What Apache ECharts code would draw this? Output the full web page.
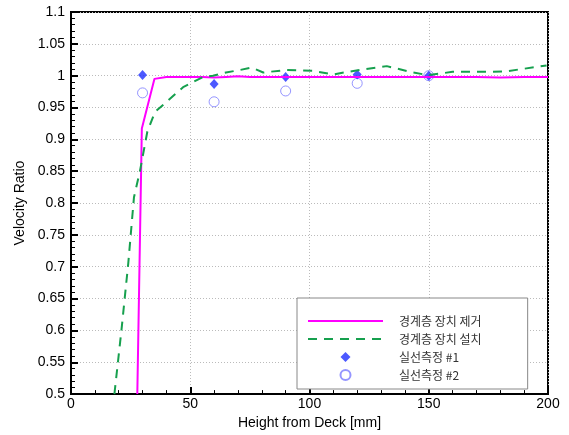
<!DOCTYPE html>
<html>
<head>
<meta charset="utf-8">
<script src="https://cdn.jsdelivr.net/npm/echarts@6/dist/echarts.min.js"></script>
<style>
  html, body { margin: 0; padding: 0; background: #fff; }
  #chartmain { width: 569px; height: 435px; }
</style>
</head>
<body>
<div id="chartmain"></div>
<script>
// 경계층 장치 제거 (height mm, velocity ratio)
var removedX = [27.8, 29.7, 35, 40, 45, 50, 55, 60, 65, 70, 75, 80, 90, 100, 110, 120, 130, 140, 150, 160, 170, 180, 190, 200];
var removedY = [0.5, 0.917, 0.995, 0.998, 0.998, 0.998, 0.998, 0.997, 0.998, 0.999, 0.998, 0.998, 0.998, 0.998, 0.998, 0.998, 0.998, 0.998, 0.998, 0.998, 0.998, 0.997, 0.998, 0.998];

// 경계층 장치 설치
var installedX = [18.2, 21.2, 24, 26.4, 28.9, 32, 35.2, 40.1, 47, 55.4, 59.5, 65, 70.9, 75.8, 80.6, 90.4, 101.6, 110, 118.4, 132.4, 143.5, 149.7, 160, 174.3, 182.7, 199.4];
var installedY = [0.5, 0.602, 0.705, 0.809, 0.85, 0.912, 0.943, 0.959, 0.982, 0.998, 1.0, 1.005, 1.009, 1.0127, 1.005, 1.009, 1.0075, 1.002, 1.0075, 1.015, 1.005, 1.0008, 1.006, 1.006, 1.007, 1.016];

// 실선측정
var measureX = [30, 60, 90, 120, 150];
var measure1 = [1.001, 0.987, 0.998, 1.002, 1.000];
var measure2 = [0.973, 0.959, 0.976, 0.988, 1.000];

var seriesNames = ['경계층 장치 제거', '경계층 장치 설치', '실선측정 #1', '실선측정 #2'];

function pairs(xs, ys) {
    return xs.map(function (x, i) { return [x, ys[i]]; });
}

var option = {
    animation: false,
    backgroundColor: '#fff',
    textStyle: { fontFamily: 'Liberation Sans, Arial, sans-serif' },
    grid: {
        left: 71, right: 21, top: 12, bottom: 36,
        show: true, borderColor: '#000', borderWidth: 2
    },
    legend: {
        orient: 'vertical',
        left: 297, top: 298,
        padding: [17, 46, 8, 10],
        itemWidth: 75, itemHeight: 10, itemGap: 6,
        borderColor: '#888', borderWidth: 1,
        backgroundColor: '#fff',
        symbolKeepAspect: true,
        data: [
            { name: seriesNames[0], itemStyle: { opacity: 0, borderWidth: 0 } },
            { name: seriesNames[1], itemStyle: { opacity: 0, borderWidth: 0 } },
            { name: seriesNames[2], icon: 'path://M0,-1L1,0L0,1L-1,0Z' },
            { name: seriesNames[3] }
        ],
        textStyle: {
            fontFamily: 'Noto Sans CJK KR', fontSize: 12, lineHeight: 12, color: '#333',
            padding: [0, 0, 0, 11]
        }
    },
    xAxis: {
        type: 'value', min: 0, max: 200, interval: 50,
        name: 'Height from Deck [mm]', nameLocation: 'middle', nameGap: 20,
        nameTextStyle: { fontSize: 14, color: '#000' },
        axisLine: { lineStyle: { color: '#000', width: 2 } },
        axisTick: { inside: true, length: 7, lineStyle: { color: '#000', width: 2 } },
        minorTick: { show: true, splitNumber: 5, length: 4, lineStyle: { color: '#000' } },
        axisLabel: { fontSize: 14, color: '#000', margin: 3 },
        splitLine: { show: true, lineStyle: { color: '#bbb', type: [1, 2] } }
    },
    yAxis: {
        type: 'value', min: 0.5, max: 1.1, interval: 0.05,
        name: 'Velocity Ratio', nameLocation: 'middle', nameGap: 44,
        nameTextStyle: { fontSize: 14, color: '#000' },
        axisLine: { lineStyle: { color: '#000', width: 2 } },
        axisTick: { inside: true, length: 7, lineStyle: { color: '#000', width: 2 } },
        minorTick: { show: true, splitNumber: 5, length: 4, lineStyle: { color: '#000' } },
        axisLabel: {
            fontSize: 14, color: '#000', margin: 6,
            formatter: function (v) { return String(+v.toFixed(2)); }
        },
        splitLine: { show: true, lineStyle: { color: '#bbb', type: [1, 2] } }
    },
    series: [
        {
            name: seriesNames[0], type: 'line', symbol: 'none',
            data: pairs(removedX, removedY),
            itemStyle: { color: '#ff00ff' },
            lineStyle: { color: '#ff00ff', width: 2 }
        },
        {
            name: seriesNames[1], type: 'line', symbol: 'none',
            data: pairs(installedX, installedY),
            itemStyle: { color: '#16a04e' },
            lineStyle: { color: '#16a04e', width: 2, type: [9, 7] }
        },
        {
            name: seriesNames[3], type: 'scatter', symbol: 'circle', symbolSize: 10,
            data: pairs(measureX, measure2),
            itemStyle: { color: 'rgba(255,255,255,0)', borderColor: '#7a7aff', borderWidth: 1 }
        },
        {
            name: seriesNames[2], type: 'scatter', symbol: 'diamond', symbolSize: [9, 10],
            data: pairs(measureX, measure1),
            itemStyle: { color: '#1f2fff' }
        }
    ]
};

var myChart = echarts.init(document.getElementById('chartmain'));
myChart.setOption(option);
</script>
</body>
</html>
